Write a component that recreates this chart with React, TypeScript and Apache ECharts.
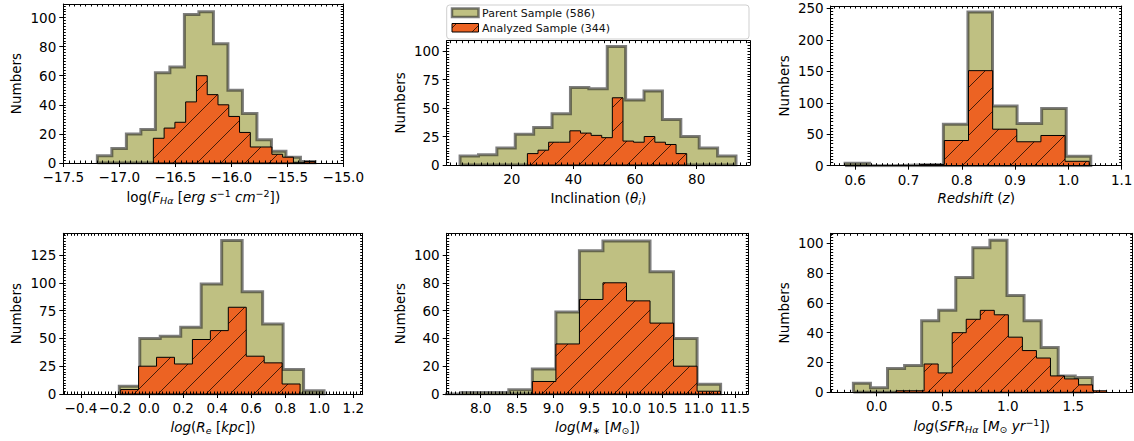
import React, { useEffect, useRef } from 'react';
import * as echarts from 'echarts';

// ---------- DATA ----------
// Panel 1: log F_Halpha
const fluxParentRange = [-17.196, -15.253];
const fluxParentCounts = [5, 10, 20, 23, 62, 66, 102, 104, 82, 50, 34, 16, 8, 4, 1];
const fluxAnalyzedRange = [-16.696, -15.253];
const fluxAnalyzedCounts = [17, 24, 28, 42, 60, 47, 40, 32, 21, 11, 11, 6, 4, 0, 1];
const fluxXTicks = [-17.5, -17.0, -16.5, -16.0, -15.5, -15.0];
const fluxYTicks = [0, 20, 40, 60, 80, 100];

// Panel 2: inclination
const incParentRange = [3.24, 92.76];
const incParentCounts = [8, 9, 15, 27, 33, 45, 68, 67, 104, 57, 65, 40, 25, 15, 8];
const incAnalyzedRange = [25.08, 76.76];
const incAnalyzedCounts = [10, 13, 20, 20, 30, 28, 26, 24, 59, 21, 20, 25, 20, 18, 10];
const incXTicks = [20, 40, 60, 80];
const incYTicks = [0, 25, 50, 75, 100];

// Panel 3: redshift
const zParentRange = [0.581, 1.042];
const zParentCounts = [4, 0, 1, 2, 66, 244, 95, 67, 91, 15];
const zAnalyzedRange = [0.722, 1.039];
const zAnalyzedCounts = [2, 40, 151, 58, 38, 48, 7];
const zXTicks = [0.6, 0.7, 0.8, 0.9, 1.0, 1.1];
const zYTicks = [0, 50, 100, 150, 200, 250];

// Panel 4: effective radius
const reParentRange = [-0.175, 1.028];
const reParentCounts = [7, 50, 52, 60, 99, 138, 92, 63, 22, 3];
const reAnalyzedRange = [-0.167, 0.887];
const reAnalyzedCounts = [4, 25, 33, 27, 49, 57, 78, 34, 28, 9];
const reXTicks = [-0.4, -0.2, 0.0, 0.2, 0.4, 0.6, 0.8, 1.0, 1.2];
const reYTicks = [0, 25, 50, 75, 100, 125];

// Panel 5: stellar mass
const massParentRange = [7.415, 11.302];
const massParentCounts = [0, 1, 1, 3, 18, 59, 103, 110, 110, 88, 40, 7];
const massAnalyzedRange = [8.711, 11.302];
const massAnalyzedCounts = [9, 36, 68, 80, 67, 51, 20, 2];
const massXTicks = [8.0, 8.5, 9.0, 9.5, 10.0, 10.5, 11.0, 11.5];
const massYTicks = [0, 20, 40, 60, 80, 100];

// Panel 6: SFR
const sfrParentRange = [-0.178, 1.645];
const sfrParentCounts = [6, 3, 16, 18, 48, 55, 77, 97, 102, 65, 48, 30, 11, 10];
const sfrAnalyzedRange = [0.1475, 1.754];
const sfrAnalyzedCounts = [1, 1, 19, 13, 40, 49, 55, 52, 37, 28, 23, 11, 9, 5, 1];
const sfrXTicks = [0.0, 0.5, 1.0, 1.5];
const sfrYTicks = [0, 20, 40, 60, 80, 100];

const legendLabels = ['Parent Sample (586)', 'Analyzed Sample (344)'];

// ---------- STYLE ----------
const FF = '"DejaVu Sans", sans-serif';
const FS = 13.5;
const PARENT_FILL = '#bfc082';
const PARENT_EDGE = 'rgba(40,40,40,0.6)';
const ANALYZED_FILL = '#ec6323';

const rich = {
  n: { fontFamily: FF, fontSize: FS, color: '#000' },
  i: { fontFamily: FF, fontSize: FS, fontStyle: 'italic', color: '#000' },
  sub: { fontFamily: FF, fontSize: 9.5, fontStyle: 'italic', color: '#000', padding: [6, 0, 0, 0] },
  subn: { fontFamily: FF, fontSize: 9.5, color: '#000', padding: [6, 0, 0, 0] },
  sup: { fontFamily: FF, fontSize: 9.5, color: '#000', padding: [0, 0, 8, 0] },
};

const panels = [
  {
    left: 63.3, top: 4, width: 280, height: 159, xMin: -17.5, xMax: -15.0, yMax: 109.3, dec: 1,
    xTicks: fluxXTicks, yTicks: fluxYTicks, parent: [fluxParentRange, fluxParentCounts], analyzed: [fluxAnalyzedRange, fluxAnalyzedCounts],
    name: '{n|log(}{i|F}{sub|Hα}{n| [}{i|erg s}{sup|−1}{i| cm}{sup|−2}{n|])}',
  },
  {
    left: 446.7, top: 40.7, width: 303.3, height: 124.3, xMin: -1.1, xMax: 97.3, yMax: 109.1, dec: 0,
    xTicks: incXTicks, yTicks: incYTicks, parent: [incParentRange, incParentCounts], analyzed: [incAnalyzedRange, incAnalyzedCounts],
    name: '{n|Inclination (}{i|θ}{sub|i}{n|)}',
  },
  {
    left: 830.7, top: 6, width: 291, height: 159.7, xMin: 0.554, xMax: 1.1, yMax: 253.7, dec: 1,
    xTicks: zXTicks, yTicks: zYTicks, parent: [zParentRange, zParentCounts], analyzed: [zAnalyzedRange, zAnalyzedCounts],
    name: '{i|Redshift}{n| (}{i|z}{n|)}',
  },
  {
    left: 63.3, top: 233.3, width: 299.4, height: 160.7, xMin: -0.504, xMax: 1.255, yMax: 144.5, dec: 1,
    xTicks: reXTicks, yTicks: reYTicks, parent: [reParentRange, reParentCounts], analyzed: [reAnalyzedRange, reAnalyzedCounts],
    name: '{i|log}{n|(}{i|R}{sub|e}{n| [}{i|kpc}{n|])}',
  },
  {
    left: 446.7, top: 233.3, width: 301.6, height: 160.7, xMin: 7.532, xMax: 11.683, yMax: 115.6, dec: 1,
    xTicks: massXTicks, yTicks: massYTicks, parent: [massParentRange, massParentCounts], analyzed: [massAnalyzedRange, massAnalyzedCounts],
    name: '{i|log}{n|(}{i|M}{subn|∗}{n| [}{i|M}{subn|⊙}{n|])}',
  },
  {
    left: 830.7, top: 233.3, width: 302, height: 159, xMin: -0.351, xMax: 1.953, yMax: 106.7, dec: 1,
    xTicks: sfrXTicks, yTicks: sfrYTicks, parent: [sfrParentRange, sfrParentCounts], analyzed: [sfrAnalyzedRange, sfrAnalyzedCounts],
    name: '{i|log}{n|(}{i|SFR}{sub|Hα}{n| [}{i|M}{subn|⊙}{i| yr}{sup|−1}{n|])}',
  },
];

function stepPoints(range: number[], counts: number[]) {
  const [lo, hi] = range;
  const w = (hi - lo) / counts.length;
  const pts: number[][] = [[lo, 0]];
  counts.forEach((c, i) => {
    pts.push([lo + i * w, c]);
    pts.push([lo + (i + 1) * w, c]);
  });
  pts.push([hi, 0]);
  pts.push([lo, 0]);
  return pts;
}

function minorValues(ticks: number[], min: number, max: number) {
  const step = (ticks[1] - ticks[0]) / 10;
  const out: number[] = [];
  const start = Math.ceil(min / step - 1e-6);
  const end = Math.floor(max / step + 1e-6);
  for (let k = start; k <= end; k++) out.push(+(k * step).toFixed(6));
  return out;
}

function fmt(v: number, dec: number) {
  const s = Math.abs(v).toFixed(dec);
  return (v < -1e-9 ? '−' : '') + s;
}

function makeHatch(size: number) {
  const c = document.createElement('canvas');
  c.width = size;
  c.height = size;
  const ctx = c.getContext('2d') as CanvasRenderingContext2D;
  ctx.fillStyle = ANALYZED_FILL;
  ctx.fillRect(0, 0, size, size);
  ctx.strokeStyle = 'rgba(0,0,0,0.8)';
  ctx.lineWidth = 0.9;
  ctx.beginPath();
  ctx.moveTo(-2, size + 2);
  ctx.lineTo(size + 2, -2);
  ctx.moveTo(-2, 2);
  ctx.lineTo(2, -2);
  ctx.moveTo(size - 2, size + 2);
  ctx.lineTo(size + 2, size - 2);
  ctx.stroke();
  return c;
}

export default function App() {
  const ref = useRef<HTMLDivElement>(null);
  useEffect(() => {
    if (!ref.current) return;
    const chart = echarts.init(ref.current, null, { renderer: 'svg' });
    const HS = 24;
    const hatch = { image: makeHatch(HS), repeat: 'repeat', imageWidth: HS, imageHeight: HS };

    const xAxis: any[] = [];
    const yAxis: any[] = [];
    const series: any[] = [];
    const tickLine = { color: '#000', width: 1 };

    panels.forEach((p, i) => {
      const xMajor = p.xTicks.filter((v) => v >= p.xMin - 1e-9 && v <= p.xMax + 1e-9);
      const yMajor = p.yTicks.filter((v) => v <= p.yMax);
      const xMinor = minorValues(p.xTicks, p.xMin, p.xMax);
      const yMinor = minorValues(p.yTicks, 0, p.yMax);
      const base = { type: 'value', gridIndex: i, z: 10, splitLine: { show: false }, minorTick: { show: false } };
      xAxis.push({
        ...base, position: 'bottom', min: p.xMin, max: p.xMax,
        axisLine: { show: true, onZero: false, lineStyle: tickLine },
        axisTick: { show: true, customValues: xMajor, inside: false, length: 4, lineStyle: tickLine },
        axisLabel: { show: true, customValues: xMajor, formatter: (v: number) => fmt(v, p.dec), margin: 7, fontSize: FS, fontFamily: FF, color: '#000' },
        name: p.name, nameLocation: 'middle', nameGap: 25,
        nameTextStyle: { fontFamily: FF, fontSize: FS, color: '#000', rich },
      });
      xAxis.push({
        ...base, position: 'bottom', min: p.xMin, max: p.xMax,
        axisLine: { show: false, onZero: false },
        axisTick: { show: true, customValues: xMinor, inside: true, length: 2.5, lineStyle: tickLine },
        axisLabel: { show: false },
      });
      xAxis.push({
        ...base, position: 'top', min: p.xMin, max: p.xMax,
        axisLine: { show: true, onZero: false, lineStyle: tickLine },
        axisTick: { show: true, customValues: xMinor, inside: true, length: 2.5, lineStyle: tickLine },
        axisLabel: { show: false },
      });
      yAxis.push({
        ...base, position: 'left', min: 0, max: p.yMax,
        axisLine: { show: true, onZero: false, lineStyle: tickLine },
        axisTick: { show: true, customValues: yMajor, inside: false, length: 4, lineStyle: tickLine },
        axisLabel: { show: true, customValues: yMajor, formatter: (v: number) => fmt(v, 0), margin: 7, fontSize: FS, fontFamily: FF, color: '#000' },
        name: 'Numbers', nameLocation: 'middle', nameGap: 40,
        nameTextStyle: { fontFamily: FF, fontSize: FS, color: '#000' },
      });
      yAxis.push({
        ...base, position: 'left', min: 0, max: p.yMax,
        axisLine: { show: false, onZero: false },
        axisTick: { show: true, customValues: yMinor, inside: true, length: 2.5, lineStyle: tickLine },
        axisLabel: { show: false },
      });
      yAxis.push({
        ...base, position: 'right', min: 0, max: p.yMax,
        axisLine: { show: true, onZero: false, lineStyle: tickLine },
        axisTick: { show: true, customValues: yMinor, inside: true, length: 2.5, lineStyle: tickLine },
        axisLabel: { show: false },
      });

      const [pr, pc] = p.parent as [number[], number[]];
      const [ar, ac] = p.analyzed as [number[], number[]];
      series.push({
        type: 'line', xAxisIndex: 3 * i, yAxisIndex: 3 * i, data: stepPoints(pr, pc),
        symbol: 'none', silent: true, z: 2,
        lineStyle: { color: PARENT_EDGE, width: 3, join: 'miter' },
        areaStyle: { color: PARENT_FILL, opacity: 1 },
      });
      series.push({
        type: 'line', xAxisIndex: 3 * i, yAxisIndex: 3 * i, data: stepPoints(ar, ac),
        symbol: 'none', silent: true, z: 3,
        lineStyle: { color: '#000', width: 1, join: 'miter' },
        areaStyle: { color: hatch, opacity: 1 },
      });
    });

    const lg = panels[1];
    const graphic = [
      {
        type: 'rect', z: 20,
        shape: { x: lg.left, y: 5, width: lg.width - 1, height: 34, r: 3 },
        style: { fill: 'rgba(255,255,255,0.85)', stroke: '#cfcfcf', lineWidth: 1 },
      },
      {
        type: 'rect', z: 21,
        shape: { x: 452, y: 8.5, width: 26.5, height: 8.5 },
        style: { fill: PARENT_FILL, stroke: PARENT_EDGE, lineWidth: 2.5 },
      },
      {
        type: 'text', z: 21, x: 482, y: 13,
        style: { text: legendLabels[0], font: `11px ${FF}`, fill: '#111', verticalAlign: 'middle' },
      },
      {
        type: 'rect', z: 21,
        shape: { x: 452, y: 23.5, width: 26.5, height: 8.5 },
        style: { fill: hatch, stroke: '#000', lineWidth: 1 },
      },
      {
        type: 'text', z: 21, x: 482, y: 28.5,
        style: { text: legendLabels[1], font: `11px ${FF}`, fill: '#111', verticalAlign: 'middle' },
      },
    ];

    chart.setOption({
      animation: false,
      grid: panels.map((p) => ({
        left: p.left, top: p.top, width: p.width, height: p.height,
        containLabel: false, outerBoundsMode: 'none',
      })),
      xAxis,
      yAxis,
      series,
      graphic,
    });
    return () => chart.dispose();
  }, []);

  return (
    <div
      ref={ref}
      style={{ position: 'absolute', left: 0, top: 0, width: 1134, height: 441, background: '#fff' }}
    />
  );
}
